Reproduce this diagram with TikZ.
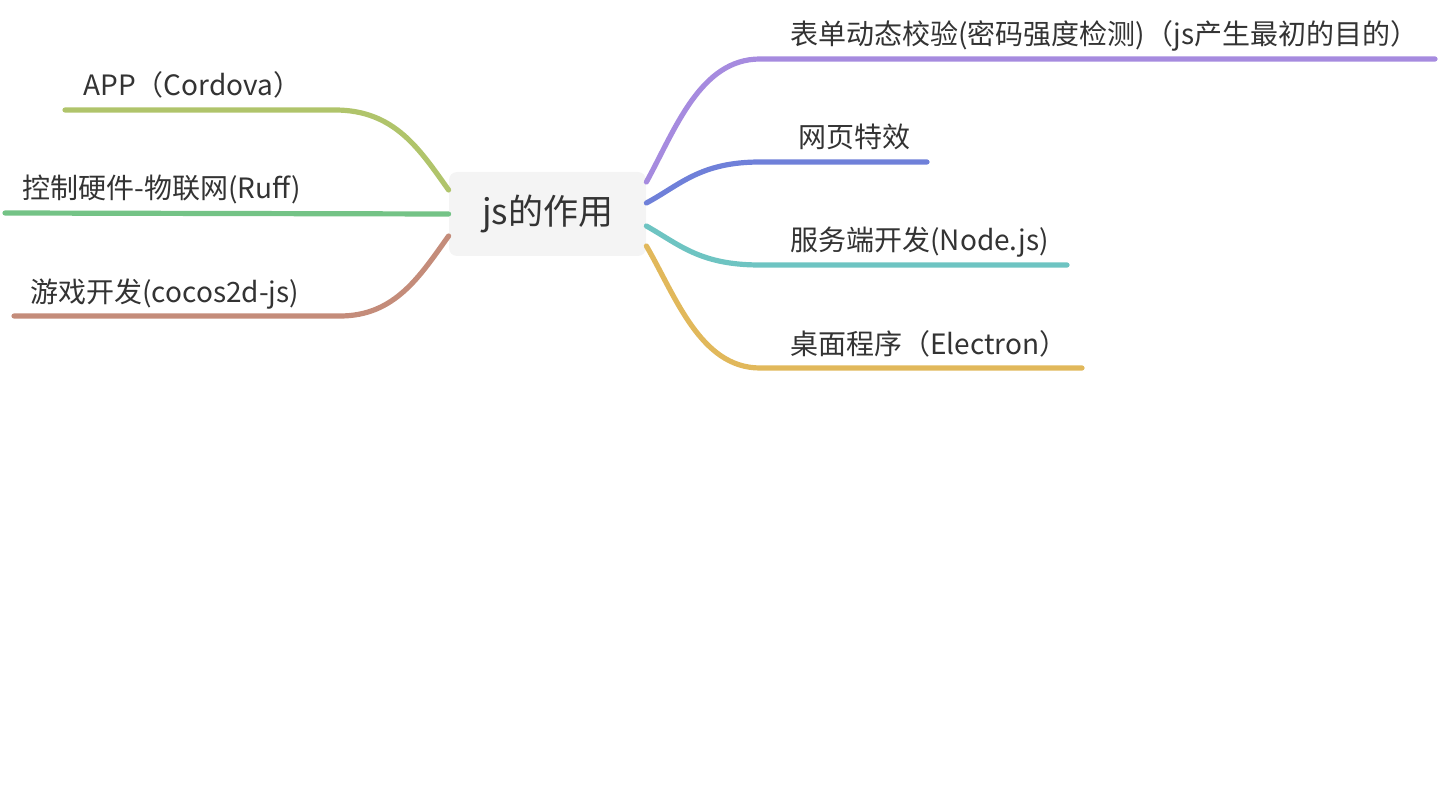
\documentclass[tikz,border=0pt]{standalone}
\usepackage{fontspec}
\setmainfont{Noto Sans CJK SC}
\usetikzlibrary{positioning,calc}
\definecolor{cpurple}{HTML}{A68BDF}
\definecolor{cblue}{HTML}{6F80D9}
\definecolor{cteal}{HTML}{6EC4C2}
\definecolor{cgold}{HTML}{E1B85B}
\definecolor{clime}{HTML}{B0C46B}
\definecolor{cgreen}{HTML}{74C386}
\definecolor{cbrown}{HTML}{C48C7A}
\definecolor{ctext}{HTML}{333333}
\tikzset{
  branch/.style={line width=2.6pt, line cap=round},
  leaf/.style={font=\fontsize{14}{17}\selectfont, text=ctext, inner sep=0pt, anchor=base west},
  root/.style={fill=black!4.5, rounded corners=4pt, minimum width=98.5pt, minimum height=42pt,
    font=\fontsize{17.5}{20}\selectfont, text=ctext, inner sep=0pt}
}
\begin{document}
\begin{tikzpicture}[x=0.5pt, y=-0.5pt]
    \useasboundingbox (0,0) rectangle (1440,791);
    \node[root] (js) at (547.5,214) {js的作用};
    % right side
    \node[leaf] (form) at (790,45) {表单动态校验(密码强度检测)（js产生最初的目的）};
    \node[leaf] (effect) at (798,148) {网页特效};
    \node[leaf] (server) at (790,251) {服务端开发(Node.js)};
    \node[leaf] (desktop) at (790,354) {桌面程序（Electron）};
    % left side
    \node[leaf] (app) at (83,96) {APP（Cordova）};
    \node[leaf] (iot) at (22,199) {控制硬件-物联网(Ruff)};
    \node[leaf] (game) at (30,302) {游戏开发(cocos2d-js)};
    \coordinate (formEnd) at (1435,59);
    \coordinate (effectEnd) at (927,162);
    \coordinate (serverEnd) at (1067,265);
    \coordinate (desktopEnd) at (1082,368);
    \coordinate (appEnd) at (65,110);
    \coordinate (iotEnd) at (5,213);
    \coordinate (gameEnd) at (14,316);
    \draw[branch, cpurple] ($(js.east)+(0,-32)$) .. controls (675,130) and (700,59) .. (760,59) -- (formEnd);
    \draw[branch, cblue] ($(js.east)+(0,-11)$) .. controls (680,185) and (700,162) .. (760,162) -- (effectEnd);
    \draw[branch, cteal] ($(js.east)+(0,12)$) .. controls (680,245) and (700,265) .. (760,265) -- (serverEnd);
    \draw[branch, cgold] ($(js.east)+(0,32)$) .. controls (675,295) and (700,368) .. (760,368) -- (desktopEnd);
    \draw[branch, clime] ($(js.west)+(0,-24)$) .. controls (420,150) and (395,110) .. (335,110) -- (appEnd);
    \draw[branch, cgreen] (js.west) -- (iotEnd);
    \draw[branch, cbrown] ($(js.west)+(0,22)$) .. controls (420,276) and (395,316) .. (340,316) -- (gameEnd);
\end{tikzpicture}
\end{document}
